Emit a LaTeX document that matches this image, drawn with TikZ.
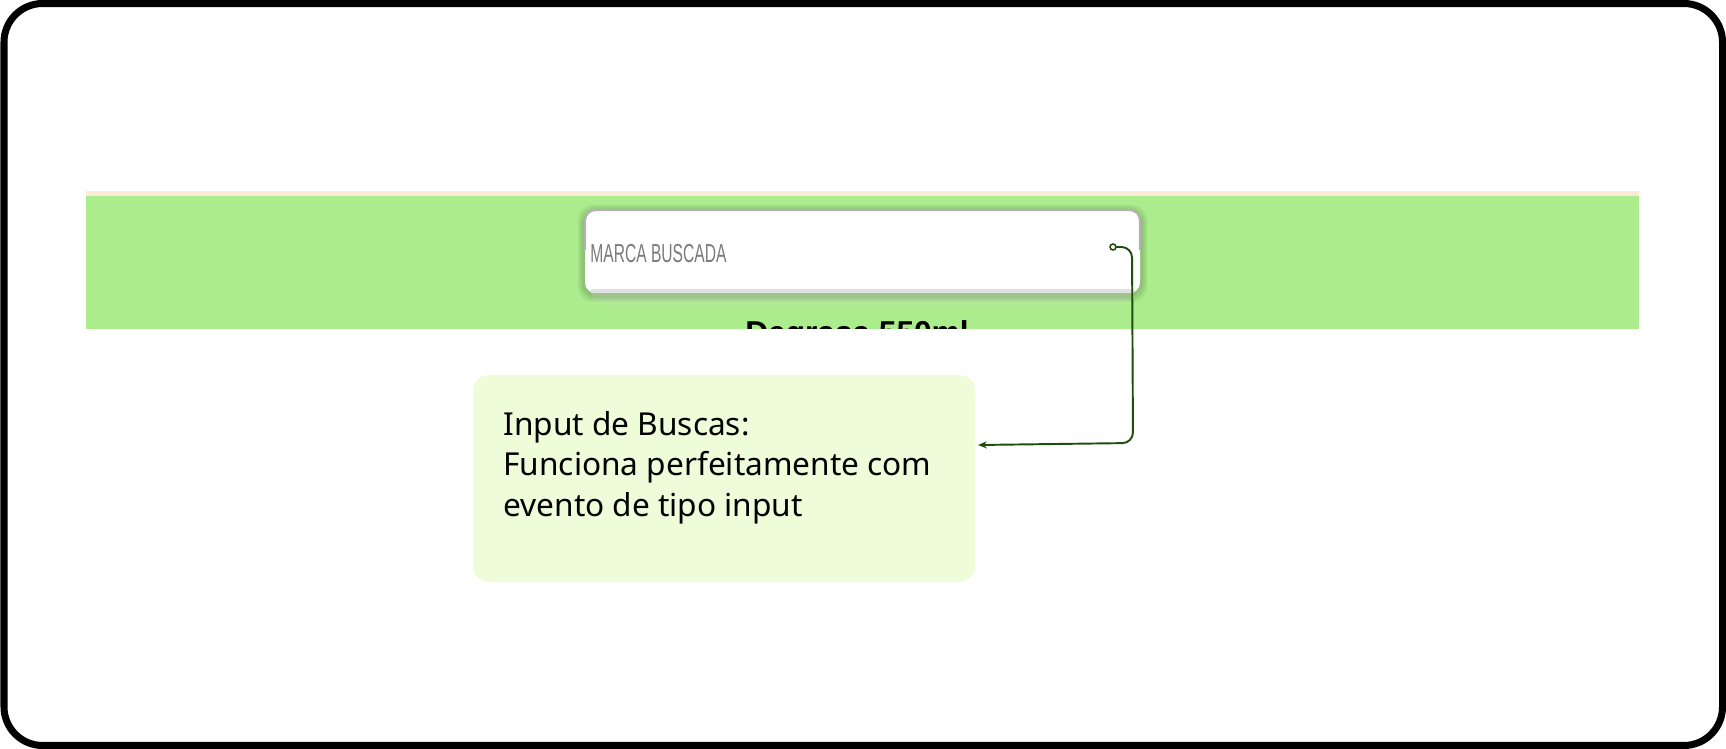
\documentclass[tikz,border=0pt]{standalone}
\usepackage{fontspec}
\setmainfont{Noto Sans}
\newfontfamily\arialfont{Liberation Sans}
\usetikzlibrary{arrows.meta}
\usetikzlibrary{calc}
\usepackage[rgb]{xcolor}
\definecolor{fg}{HTML}{000000}
\definecolor{bg}{HTML}{FFFFFF}
\definecolor{gr}{HTML}{ABEC8C}
\definecolor{be}{HTML}{FAEBD7}
\definecolor{nt}{HTML}{EFFCD9}
\definecolor{ln}{HTML}{1E4D0E}
\definecolor{ph}{HTML}{7A7A7A}

\begin{document}
\begin{tikzpicture}[x=0.02cm, y=-0.02cm,
  frame/.style={draw=fg, line width=4pt, rounded corners=22pt},
  notetext/.style={anchor=north west, inner sep=0pt, align=left, font=\fontsize{18}{23}\selectfont},
  wire/.style={draw=ln, line width=1.1pt, rounded corners=6pt}]
  \useasboundingbox (0,0) rectangle (1726,749);
  \draw[frame] (4,3.5) rectangle (1722.5,745.5);

  \coordinate (a) at (86,191);
  \fill[be] (a) rectangle ++(1553,5);
  \fill[gr] ($(a)+(0,5)$) rectangle ++(1553,133);
  \begin{scope}
    \clip ($(a)+(0,5)$) rectangle ++(1553,133);
    \foreach \s in {12,8,4}
      \fill[bg, opacity=0.1, rounded corners=4pt] (592,290) rectangle (1133,293+\s);
    \node[anchor=base, inner sep=0pt, font=\arialfont\bfseries\fontsize{18}{20}\selectfont] (title) at (857,344) {Degrasa 550ml};
  \end{scope}

  \coordinate (b) at (585,210);
  \foreach \s in {7,5,3}
    \fill[fg, opacity=0.06, rounded corners=9pt] ($(b)+(-\s,-\s+2)$) rectangle ($(b)+(555+\s,83+\s+2)$);
  \fill[bg, rounded corners=6pt] (b) rectangle ++(555,83);
  \draw[gray!25, line width=2.5pt, rounded corners=6pt] ($(b)+(6,81)$) -- ++(543,0);
  \draw[gray!60, line width=1.2pt, rounded corners=6pt] ($(b)+(0,40)$) -- (b) -- ++(555,0) -- ++(0,40);
  \node[anchor=base west, inner sep=0pt, text=ph, font=\arialfont\fontsize{14.8}{16}\selectfont] (hint) at (590,263) {\scalebox{0.6}[1]{MARCA BUSCADA}};

  \coordinate (c) at (473,375);
  \fill[nt, rounded corners=9pt] (c) rectangle ++(502,207);
  \node[notetext] (note) at (503,411) {Input de Buscas:\\Funciona perfeitamente com\\evento de tipo input};

  \coordinate (dot) at (1113,247);
  \coordinate (tip) at (978,445);
  \draw[wire, -{Stealth[length=5pt, width=4pt]}] (dot) -- (1132,247) -- (1133,443) -- (tip);
  \draw[draw=ln, fill=bg, line width=0.9pt] (dot) circle (1.7pt);
\end{tikzpicture}
\end{document}
